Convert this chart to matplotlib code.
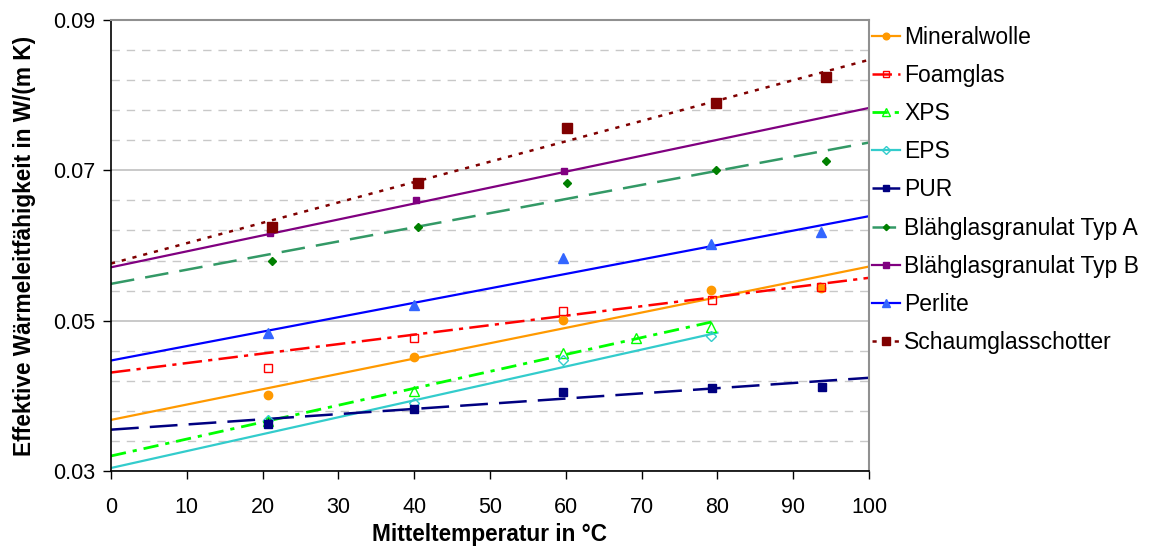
import numpy as np
import matplotlib
matplotlib.use("Agg")
import matplotlib.pyplot as plt
from matplotlib.lines import Line2D

plt.rcParams['font.family'] = ['Liberation Sans', 'DejaVu Sans']
plt.rcParams['lines.scale_dashes'] = False

names = ['Mineralwolle', 'Foamglas', 'XPS', 'EPS', 'PUR',
         'Blähglasgranulat Typ A', 'Blähglasgranulat Typ B', 'Perlite',
         'Schaumglasschotter']

# measured points
x_min = [20.7, 40.0, 59.6, 79.2, 93.7]
y_min = [0.0401, 0.0452, 0.0501, 0.0541, 0.0544]
x_foam = [20.7, 40.0, 59.6, 79.3, 93.7]
y_foam = [0.0437, 0.0477, 0.0513, 0.0528, 0.0545]
x_xps = [20.7, 40.0, 59.6, 69.3, 79.1]
y_xps = [0.0366, 0.0407, 0.0457, 0.0477, 0.0492]
x_eps = [20.7, 40.0, 59.6, 79.1]
y_eps = [0.0368, 0.0391, 0.0448, 0.0479]
x_pur = [20.7, 40.0, 59.6, 79.3, 93.8]
y_pur = [0.0362, 0.0383, 0.0405, 0.0411, 0.0412]
x_typa = [21.2, 40.5, 60.2, 79.8, 94.3]
y_typa = [0.0579, 0.0625, 0.0683, 0.0701, 0.0713]
x_typb = [21.0, 40.3, 59.8]
y_typb = [0.0617, 0.0660, 0.0699]
x_perl = [20.7, 40.0, 59.6, 79.2, 93.7]
y_perl = [0.0483, 0.0521, 0.0583, 0.0602, 0.0618]
x_scha = [21.2, 40.5, 60.2, 79.8, 94.3]
y_scha = [0.0625, 0.0683, 0.0756, 0.0789, 0.0824]

xs = [x_min, x_foam, x_xps, x_eps, x_pur, x_typa, x_typb, x_perl, x_scha]
ys = [y_min, y_foam, y_xps, y_eps, y_pur, y_typa, y_typb, y_perl, y_scha]

# trend lines (start / end)
trend_x0 = [0, 0, 0, 0, 0, 0, 0, 0, 0]
trend_x1 = [100, 100, 80, 80, 100, 100, 100, 100, 100]
trend_y0 = [0.0368, 0.0431, 0.0320, 0.0304, 0.0355, 0.0549, 0.0571, 0.0447, 0.0576]
trend_y1 = [0.0572, 0.0557, 0.0500, 0.0484, 0.0424, 0.0737, 0.0783, 0.0639, 0.0847]

line_colors = ['#FF9900', '#FF0000', '#00FF00', '#33CCCC', '#000080',
               '#339966', '#800080', '#0000FF', '#800000']
marker_colors = ['#FF9900', '#FF0000', '#00FF00', '#33CCCC', '#000080',
                 '#008000', '#800080', '#3366FF', '#800000']
markers = ['o', 's', '^', 'D', 's', 'D', 's', '^', 's']
msizes = [6, 6, 7, 5, 6, 4, 5, 6.5, 6.5]
filled = [True, False, False, False, True, True, True, True, True]
styles = ['-', (0, (14, 4.5, 3, 4.5)), (0, (11, 5, 3, 5)), '-', (0, (20, 8)),
          (0, (17, 8)), '-', '-', (0, (3, 5))]
widths = [1.6, 1.8, 2.0, 1.6, 1.8, 1.8, 1.6, 1.6, 1.8]

fig = plt.figure(figsize=(11.49, 5.47), dpi=100)
ax = fig.add_axes([111 / 1149, 1 - 471 / 547, 758 / 1149, 451 / 547])

handles = []
for i in range(len(names)):
    fc = marker_colors[i] if filled[i] else 'none'
    ax.plot([trend_x0[i], trend_x1[i]], [trend_y0[i], trend_y1[i]],
            color=line_colors[i], linestyle=styles[i], linewidth=widths[i],
            zorder=2)
    ax.plot(xs[i], ys[i], linestyle='none', marker=markers[i],
            markersize=msizes[i], markerfacecolor=fc,
            markeredgecolor=marker_colors[i], markeredgewidth=1.0, zorder=3)
    handles.append(Line2D([], [], color=line_colors[i], linestyle=styles[i],
                          linewidth=widths[i], marker=markers[i],
                          markersize=msizes[i] * 0.8, markerfacecolor=fc,
                          markeredgecolor=marker_colors[i], markeredgewidth=1.0))

ax.set_xlim(0, 100)
ax.set_ylim(0.03, 0.09)
ax.set_xticks(np.arange(0, 101, 10))
ax.set_yticks([0.03, 0.05, 0.07, 0.09])
ax.set_yticklabels(['0.03', '0.05', '0.07', '0.09'])
minor = [0.03 + k * 0.004 for k in range(1, 15) if k % 5 != 0]
ax.set_yticks(minor, minor=True)
ax.grid(axis='y', which='major', color='#C0C0C0', linewidth=1.2, linestyle='-')
ax.grid(axis='y', which='minor', color='#C8C8C8', linewidth=1.0,
        linestyle=(0, (6, 5)))
ax.set_axisbelow(True)
ax.tick_params(axis='y', which='minor', length=0)
ax.tick_params(axis='both', which='major', direction='out', length=5.5,
               width=1, labelsize=15.5, color='black')
ax.tick_params(axis='x', pad=13)
ax.tick_params(axis='y', pad=6)

for s in ['left', 'bottom']:
    ax.spines[s].set_color('black')
    ax.spines[s].set_linewidth(1.2)
for s in ['top', 'right']:
    ax.spines[s].set_color('#909090')
    ax.spines[s].set_linewidth(1.5)

ax.set_xlabel('Mitteltemperatur in °C', fontsize=16.3, fontweight='bold',
              labelpad=4)
ax.set_ylabel('Effektive Wärmeleitfähigkeit in W/(m K)', fontsize=16.3,
              fontweight='bold', labelpad=12)

fig.legend(handles, names, loc='upper left',
           bbox_to_anchor=(872 / 1149, 1 - 26 / 547), frameon=False,
           fontsize=16.5, handlelength=1.2, handletextpad=0.2,
           labelspacing=0.66, borderpad=0, borderaxespad=0, numpoints=1)

fig.savefig('out.png', dpi=100)
